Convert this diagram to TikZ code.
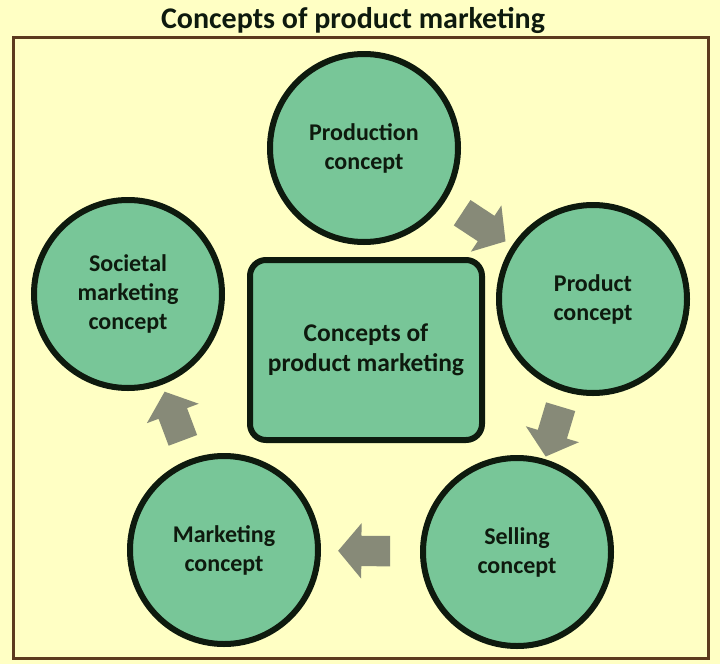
\documentclass[tikz,border=0pt]{standalone}
\usepackage{fontspec}
\setmainfont{Carlito}
\usetikzlibrary{shapes.arrows}
\definecolor{paper}  {HTML}{FFFFC4}
\definecolor{frame}  {HTML}{5C3A1E}
\definecolor{leaf}   {HTML}{78C698}
\definecolor{ink}    {HTML}{0E1A0E}
\definecolor{stone}  {HTML}{878A78}
\tikzset{
  conceptcircle/.style ={circle, draw=ink, fill=leaf, line width=6pt,
                         minimum size=188pt, inner sep=0pt, align=center,
                         text=ink, font=\bfseries\fontsize{24}{29}\selectfont},
  hubbox/.style        ={rectangle, rounded corners=16pt, draw=ink, fill=leaf,
                         line width=6pt, minimum width=232pt, minimum height=180pt,
                         align=center, text=ink,
                         font=\bfseries\fontsize{25.5}{30}\selectfont},
  flowarr/.style       ={single arrow, fill=stone, draw=none, sloped,
                         allow upside down, minimum height=52pt,
                         single arrow head extend=12.5pt,
                         single arrow tip angle=100, inner xsep=0pt,
                         inner ysep=15pt, text height=0pt, text depth=0pt},
}

\begin{document}
\begin{tikzpicture}[x=1pt,y=-1pt]
    \useasboundingbox[fill=paper] (0,0) rectangle (720,664);
    \draw[frame, line width=3pt] (13,37) rectangle (708,658);
    \node[text=ink, font=\bfseries\fontsize{30}{34}\selectfont] (title) at (353,20) {Concepts of product marketing};

    \node[hubbox] (hub) at (366,350) {Concepts of\\product marketing};
    \node[conceptcircle] (prodn) at (364,148) {Production\\concept};
    \node[conceptcircle] (prodt) at (593,299) {Product\\concept};
    \node[conceptcircle] (sell) at (517,552) {Selling\\concept};
    \node[conceptcircle] (mkt) at (224,550) {Marketing\\concept};
    \node[conceptcircle] (soc) at (128,294) {Societal\\marketing\\concept};

    \path (prodn) -- node[flowarr] (a1) {} (prodt);
    \path (prodt) -- node[flowarr] (a2) {} (sell);
    \path (sell) -- node[flowarr] (a3) {} (mkt);
    \path (mkt) -- node[flowarr] (a4) {} (soc);
  \end{tikzpicture}
\end{document}
